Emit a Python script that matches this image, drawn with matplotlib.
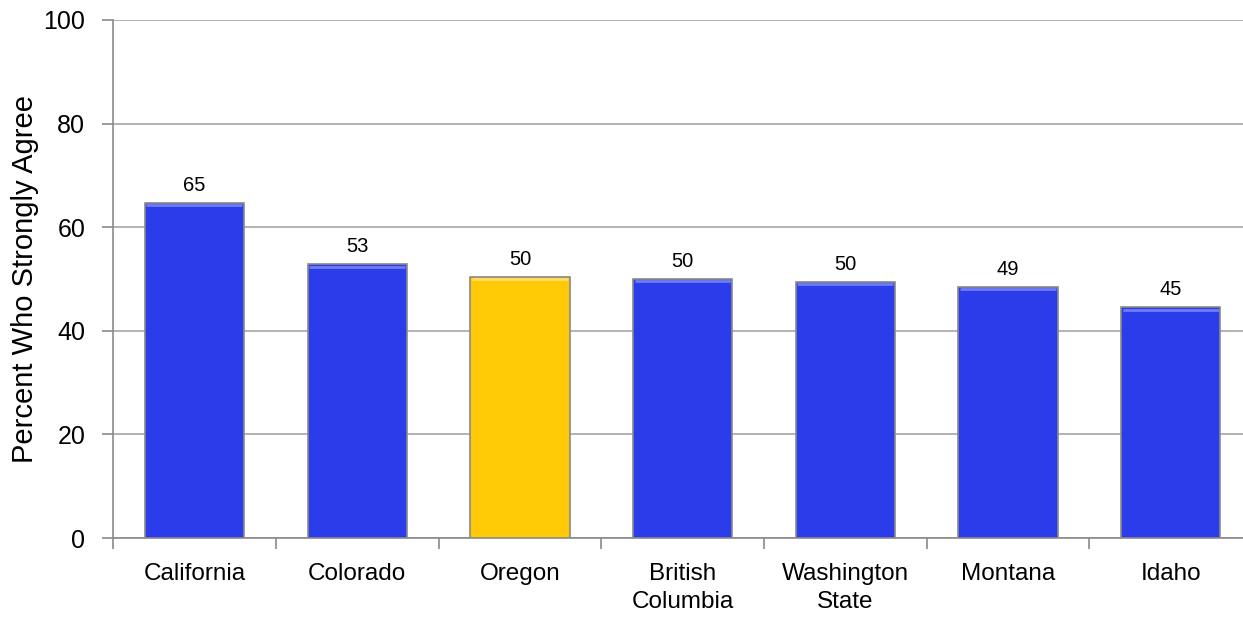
import matplotlib
matplotlib.use("Agg")
import matplotlib.pyplot as plt
import numpy as np

plt.rcParams['font.family'] = ['Liberation Sans', 'DejaVu Sans']

# chart data
regions = ['California', 'Colorado', 'Oregon', 'British\nColumbia', 'Washington\nState', 'Montana', 'Idaho']
percent = [64.6, 52.8, 50.4, 50.0, 49.4, 48.4, 44.5]
labels = ['65', '53', '50', '50', '50', '49', '45']
highlight = 'Oregon'

blue = '#2b3deb'
gold = '#ffc905'
colors = [gold if r == highlight else blue for r in regions]

fig = plt.figure(figsize=(12.43, 6.23), dpi=100)
# right edge runs slightly past the canvas, as in the original
ax = fig.add_axes([0.091, 0.1364, 0.9163, 0.8316])

x = np.arange(len(regions))
bars = ax.bar(x, percent, width=0.61, color=colors, edgecolor='#8a8a8a', linewidth=1.2, zorder=3)

# light bevel along the top of each bar
for b, c in zip(bars, colors):
    hl = '#6f7cf2' if c == blue else '#ffdd66'
    ax.plot([b.get_x() + 0.01, b.get_x() + b.get_width() - 0.01], [b.get_height() - 0.4] * 2,
            color=hl, linewidth=2, zorder=4, solid_capstyle='butt')

for xi, h, lab in zip(x, percent, labels):
    ax.text(xi, h + 1.6, lab, ha='center', va='bottom', fontsize=14.5, zorder=5,
            bbox=dict(facecolor='white', edgecolor='none', pad=3))

ax.set_xlim(-0.5, len(regions) - 0.5)
ax.set_ylim(0, 100)
ax.set_yticks(range(0, 101, 20))
ax.yaxis.grid(True, color='#a6a6a6', linewidth=1.2, zorder=0)
ax.set_axisbelow(True)

ax.set_xticks(x)
ax.set_xticklabels(regions, fontsize=17.5, linespacing=1.35)
ax.set_xticks(np.arange(-0.5, len(regions), 1), minor=True)
ax.tick_params(axis='x', which='major', length=0, pad=18)
ax.tick_params(axis='x', which='minor', length=8, color='#8a8a8a', width=1.2)
ax.tick_params(axis='y', length=8, color='#8a8a8a', width=1.2, labelsize=18, pad=12)

ax.set_ylabel('Percent Who Strongly Agree', fontsize=21, labelpad=3)

for s in ['top', 'right']:
    ax.spines[s].set_visible(False)
for s in ['left', 'bottom']:
    ax.spines[s].set_color('#8a8a8a')
    ax.spines[s].set_linewidth(1.2)

fig.savefig('out.png', dpi=100, facecolor='white')
